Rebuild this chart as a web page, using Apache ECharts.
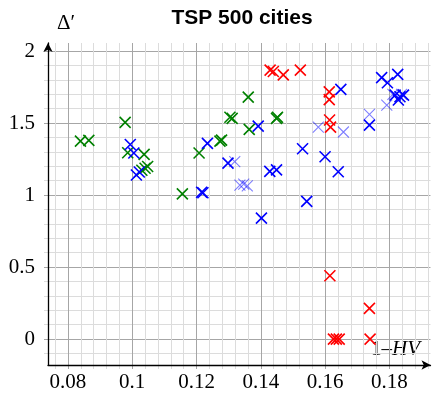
<!DOCTYPE html>
<html>
<head>
<meta charset="utf-8">
<script src="https://cdn.jsdelivr.net/npm/echarts@6/dist/echarts.min.js"></script>
<style>
  html, body { margin: 0; padding: 0; background: #ffffff; }
  #chart { width: 435px; height: 395px; }
</style>
</head>
<body>
<div id="chart"></div>
<script>
// Tick labels on both axes
const xTickLabels = [0.08, 0.10, 0.12, 0.14, 0.16, 0.18];
const yTickLabels = [0, 0.5, 1, 1.5, 2];

// [1-HV, Δ'] pairs per run group
const greenRuns = [
  [0.0839, 1.375], [0.0865, 1.380], [0.0978, 1.505], [0.0986, 1.294],
  [0.1037, 1.283], [0.1030, 1.172], [0.1040, 1.186], [0.1048, 1.198],
  [0.1156, 1.008], [0.1208, 1.292], [0.1273, 1.375], [0.1278, 1.382],
  [0.1304, 1.540], [0.1311, 1.533], [0.1361, 1.680], [0.1364, 1.456],
  [0.1449, 1.533], [0.1452, 1.540]
];
const blueRuns = [
  [0.0994, 1.351], [0.1005, 1.292], [0.1013, 1.139], [0.1022, 1.160],
  [0.1216, 1.020], [0.1220, 1.016], [0.1234, 1.359], [0.1298, 1.222],
  [0.1392, 1.479], [0.1402, 0.840], [0.1428, 1.165], [0.1449, 1.175],
  [0.1530, 1.322], [0.1543, 0.956], [0.1600, 1.266], [0.1641, 1.162],
  [0.1649, 1.734], [0.1738, 1.486], [0.1776, 1.816], [0.1794, 1.780],
  [0.1826, 1.838], [0.1818, 1.694], [0.1833, 1.683], [0.1844, 1.694],
  [0.1828, 1.660]
];
const lightBlueRuns = [
  [0.1319, 1.233], [0.1335, 1.069], [0.1347, 1.076], [0.1358, 1.064],
  [0.1579, 1.472], [0.1657, 1.438], [0.1738, 1.560], [0.1792, 1.625],
  [0.1811, 1.700], [0.1838, 1.700]
];
const redRuns = [
  [0.1429, 1.868], [0.1439, 1.858], [0.1470, 1.835], [0.1523, 1.868],
  [0.1613, 1.717], [0.1613, 1.663], [0.1614, 1.521], [0.1617, 1.472],
  [0.1615, 0.440], [0.1738, 0.213], [0.1626, 0], [0.1635, 0],
  [0.1644, 0], [0.1740, 0]
];

const X_MIN = 0.0738, X_MAX = 0.1928;
const Y_MIN = -0.18, Y_MAX = 2.056;

// minor grid positions (every 0.004 on x, every 0.1 on y), majors skipped
const xMinor = [];
for (let i = 19; i <= 48; i++) if (i % 5 !== 0) xMinor.push(+(i * 0.004).toFixed(3));
const yMinor = [];
for (let i = -1; i <= 20; i++) if (i % 5 !== 0) yMinor.push(+(i * 0.1).toFixed(1));

const serif = "'Liberation Serif', 'DejaVu Serif', 'Times New Roman', serif";
const sans = "'Liberation Sans', 'DejaVu Sans', Arial, sans-serif";
const MINOR = '#dcdcdc', MAJOR = '#a6a6a6';

function gridAxis(dim, values, color, withLabels) {
  const isX = dim === 'x';
  return {
    type: 'value',
    min: isX ? X_MIN : Y_MIN,
    max: isX ? X_MAX : Y_MAX,
    position: isX ? 'bottom' : 'left',
    axisLine: { show: false, onZero: false },
    axisTick: { show: true, customValues: values, length: 4, lineStyle: { color: color, width: 1 } },
    splitLine: { show: true, lineStyle: { color: color, width: 1 } },
    axisLabel: withLabels ? {
      show: true, customValues: values, fontFamily: serif, fontSize: 21, color: '#000',
      margin: isX ? 7 : 13
    } : { show: false },
    z: 0
  };
}

function dataAxis(dim) {
  const isX = dim === 'x';
  return {
    type: 'value',
    min: isX ? X_MIN : Y_MIN,
    max: isX ? X_MAX : Y_MAX,
    position: isX ? 'bottom' : 'left',
    axisLine: {
      show: true, onZero: false,
      symbol: ['none', 'arrow'], symbolSize: [7, 9],
      lineStyle: { color: '#000', width: 1.3 }
    },
    axisTick: { show: false },
    splitLine: { show: false },
    axisLabel: { show: false },
    z: 3
  };
}

const cross = 'path://M0,0L10,10M10,0L0,10';
function crossSeries(name, data, color, width) {
  return {
    name: name, type: 'scatter', data: data,
    xAxisIndex: 0, yAxisIndex: 0,
    symbol: cross, symbolSize: 11,
    itemStyle: { color: 'rgba(0,0,0,0)', borderColor: color, borderWidth: width, opacity: 1 },
    emphasis: { disabled: true },
    z: 5
  };
}

const chart = echarts.init(document.getElementById('chart'), null, { renderer: 'canvas' });
chart.setOption({
  animation: false,
  backgroundColor: '#ffffff',
  grid: { left: 48, right: 4.5, top: 43, bottom: 30, containLabel: false },
  xAxis: [dataAxis('x'), gridAxis('x', xMinor, MINOR, false), gridAxis('x', xTickLabels, MAJOR, true)],
  yAxis: [dataAxis('y'), gridAxis('y', yMinor, MINOR, false), gridAxis('y', yTickLabels, MAJOR, true)],
  series: [
    crossSeries('green', greenRuns, '#008000', 1.6),
    crossSeries('lightblue', lightBlueRuns, 'rgba(0,0,255,0.5)', 1.1),
    crossSeries('blue', blueRuns, '#0000ff', 1.6),
    crossSeries('red', redRuns, '#ff0000', 1.6)
  ],
  graphic: [
    { type: 'text', x: 242, y: 18, style: {
        text: 'TSP 500 cities', fontFamily: sans, fontWeight: 'bold', fontSize: 21,
        fill: '#000', align: 'center', verticalAlign: 'middle' } },
    { type: 'text', x: 57, y: 13, style: {
        text: 'Δ′', fontFamily: serif, fontSize: 21, fill: '#000' } },
    { type: 'text', x: 371, y: 339, style: {
        rich: { n: { fontFamily: serif, fontSize: 21 }, i: { fontFamily: serif, fontStyle: 'italic', fontSize: 21 } },
        text: '{n|1–}{i|HV}', fill: '#000' } }
  ]
});
</script>
</body>
</html>
